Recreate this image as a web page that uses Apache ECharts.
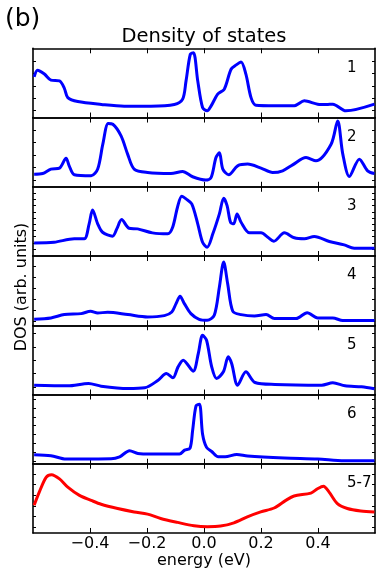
<!DOCTYPE html>
<html><head><meta charset="utf-8">
<script src="https://cdn.jsdelivr.net/npm/echarts@6/dist/echarts.min.js"></script>
<style>html,body{margin:0;padding:0;background:#fff}#c{width:390px;height:576px}</style>
</head><body><div id="c"></div>
<script>
// ---- data (energy in eV, DOS in arbitrary units) ----
const xTickValues = [-0.4, -0.2, 0.0, 0.2, 0.4];
const panelLabels = ['1', '2', '3', '4', '5', '6', '5-7'];

const e1 = [-0.596,-0.584,-0.56,-0.537,-0.507,-0.49,-0.478,-0.443,-0.36,-0.28,-0.186,-0.104,-0.075,-0.063,-0.048,-0.037,-0.022,-0.005,0.011,0.025,0.048,0.071,0.095,0.112,0.13,0.147,0.165,0.182,0.25,0.317,0.352,0.399,0.43,0.452,0.498,0.598];
const dos1 = [2.72,3.26,2.95,2.46,2.40,1.8,1.05,0.73,0.5,0.36,0.36,0.49,0.92,2.40,4.55,4.68,2.40,0.25,-0.02,0.38,1.33,1.73,3.34,3.67,3.93,2.94,1.05,0.44,0.40,0.40,0.79,0.52,0.49,0.52,-0.02,0.52];

const e2 = [-0.596,-0.566,-0.537,-0.507,-0.484,-0.473,-0.455,-0.396,-0.373,-0.355,-0.336,-0.32,-0.291,-0.268,-0.245,-0.198,-0.116,-0.075,-0.04,0.007,0.025,0.042,0.054,0.066,0.087,0.118,0.153,0.2,0.241,0.276,0.311,0.358,0.393,0.446,0.469,0.487,0.51,0.545,0.574,0.598];
const dos2 = [0.46,0.51,0.87,0.95,1.75,1.13,0.41,0.33,0.87,2.88,4.55,4.49,3.55,2.08,0.87,0.59,0.51,0.68,0.25,-0.02,0.19,1.80,2.18,0.87,0.41,1.13,1.27,0.95,0.59,0.73,1.21,1.80,1.54,2.88,4.76,2.08,0.27,1.67,0.73,0.51];

const e3 = [-0.596,-0.526,-0.455,-0.42,-0.403,-0.391,-0.373,-0.356,-0.321,-0.306,-0.289,-0.263,-0.233,-0.181,-0.127,-0.11,-0.093,-0.078,-0.063,-0.043,-0.022,-0.005,0.011,0.031,0.054,0.069,0.081,0.093,0.104,0.116,0.13,0.16,0.2,0.224,0.245,0.282,0.317,0.352,0.387,0.44,0.492,0.527,0.598];
const dos3 = [0.50,0.55,0.83,0.83,2.04,3.16,2.04,1.36,1.04,1.63,2.38,1.68,1.63,1.31,1.23,1.76,3.38,4.26,4.05,3.65,2.04,0.55,0.15,1.23,2.84,4.10,3.51,2.17,2.04,2.84,2.17,1.31,1.31,0.96,0.63,1.31,0.91,0.83,1.01,0.61,0.34,0.07,0.07];

const e4 = [-0.596,-0.537,-0.49,-0.431,-0.398,-0.373,-0.338,-0.267,-0.198,-0.139,-0.113,-0.098,-0.084,-0.069,-0.046,-0.017,0.011,0.036,0.054,0.069,0.083,0.101,0.13,0.177,0.218,0.247,0.323,0.362,0.399,0.452,0.487,0.598];
const dos4 = [-0.08,0.03,0.30,0.38,0.57,0.43,0.49,0.30,0.11,0.22,0.51,1.19,1.78,1.19,0.38,-0.08,-0.16,0.25,2.53,4.55,2.80,0.57,0.30,0.19,0.30,-0.02,-0.02,0.46,0.03,0.03,-0.18,-0.18];

const e5 = [-0.596,-0.478,-0.405,-0.361,-0.267,-0.208,-0.161,-0.132,-0.109,-0.091,-0.073,-0.038,-0.02,-0.005,0.009,0.027,0.044,0.068,0.085,0.097,0.118,0.147,0.179,0.249,0.413,0.452,0.495,0.553,0.598];
const dos5 = [0.19,0.14,0.33,0.11,-0.08,-0.02,0.59,1.13,0.79,1.67,2.21,1.32,2.75,4.22,3.82,1.67,0.73,1.27,2.48,1.94,0.19,1.27,0.41,0.25,0.19,0.38,0.14,0.06,-0.10];

const e6 = [-0.596,-0.537,-0.484,-0.326,-0.296,-0.261,-0.232,-0.185,-0.086,-0.068,-0.049,-0.04,-0.028,-0.016,-0.005,0.009,0.027,0.05,0.074,0.115,0.153,0.282,0.399,0.492,0.598];
const dos6 = [0.17,0.09,-0.18,-0.16,0.0,0.49,0.27,0.22,0.22,0.54,0.70,2.10,4.12,4.25,1.83,0.76,0.43,0.0,0.0,0.19,0.06,-0.10,-0.18,-0.32,-0.32];

const e7 = [-0.596,-0.578,-0.554,-0.535,-0.507,-0.478,-0.437,-0.396,-0.361,-0.303,-0.245,-0.198,-0.152,-0.093,-0.035,0.012,0.058,0.105,0.152,0.199,0.246,0.287,0.316,0.375,0.398,0.419,0.439,0.468,0.503,0.55,0.598];
const dos7 = [2.06,3.30,4.70,4.95,4.55,3.77,2.99,2.52,2.15,1.75,1.43,1.22,0.81,0.44,0.12,0.03,0.09,0.40,0.96,1.43,1.80,2.52,2.93,3.21,3.62,3.86,3.30,2.22,1.75,1.52,1.43];

const yTicks1 = [0, 1, 2, 3, 4];
const yTicks2 = [0, 1, 2, 3, 4];
const yTicks3 = [0, 0.5, 1, 1.5, 2, 2.5, 3, 3.5, 4, 4.5];
const yTicks4 = [-0.21, 0.65, 1.54, 2.40, 3.34, 4.22];
const yTicks5 = [0.05, 1.13, 2.2, 3.28, 4.36];
const yTicks6 = [-0.32, 0.39, 1.10, 1.81, 2.52, 3.23, 3.94, 4.65];
const yTicks7 = [0, 1, 2, 3, 4, 5];

const yMax = [5.03, 5.03, 5.03, 5.03, 5.03, 5.03, 5.98];
const yMin = -0.56;

// ---- build ----
const energies = [e1, e2, e3, e4, e5, e6, e7];
const doses = [dos1, dos2, dos3, dos4, dos5, dos6, dos7];
const yTicks = [yTicks1, yTicks2, yTicks3, yTicks4, yTicks5, yTicks6, yTicks7];
const colors = ['#0000ff','#0000ff','#0000ff','#0000ff','#0000ff','#0000ff','#ff0000'];

const LEFT = 33, WIDTH = 342, TOP = 48.3, H = 69.24;
const FONT = 'DejaVu Sans';
const axisLineStyle = { color: '#000', width: 1.6 };

const grids = [], xAxes = [], yAxes = [], series = [], graphics = [];
const fmt = v => {
  if (Math.abs(v) < 1e-9) return '0.0';
  const s = v.toFixed(1);
  return s.replace('-', '\u2212');
};

for (let i = 0; i < 7; i++) {
  const top = TOP + i * H;
  grids.push({ left: LEFT, top: top, width: WIDTH, height: H, containLabel: false });
  const isLast = i === 6;
  xAxes.push({
    type: 'value', gridIndex: i, position: 'bottom', min: -0.6, max: 0.6, interval: 0.2,
    axisLine: { show: true, onZero: false, lineStyle: axisLineStyle },
    axisTick: { show: true, inside: true, length: 5, customValues: xTickValues, lineStyle: { color: '#000', width: 1 } },
    axisLabel: { show: isLast, customValues: xTickValues, formatter: fmt, fontFamily: FONT, fontSize: 16, color: '#000', margin: 3 },
    splitLine: { show: false }
  });
  xAxes.push({
    type: 'value', gridIndex: i, position: 'top', min: -0.6, max: 0.6, interval: 0.2,
    axisLine: { show: true, onZero: false, lineStyle: axisLineStyle },
    axisTick: { show: true, inside: true, length: 5, customValues: xTickValues, lineStyle: { color: '#000', width: 1 } },
    axisLabel: { show: false },
    splitLine: { show: false }
  });
  const yCommon = {
    type: 'value', gridIndex: i, min: yMin, max: yMax[i],
    axisLine: { show: true, onZero: false, lineStyle: axisLineStyle },
    axisTick: { show: true, inside: true, length: 3, customValues: yTicks[i], lineStyle: { color: '#000', width: 1 } },
    axisLabel: { show: false },
    splitLine: { show: false }
  };
  yAxes.push(Object.assign({ position: 'left' }, yCommon));
  yAxes.push(Object.assign({ position: 'right' }, yCommon));

  series.push({
    type: 'line', xAxisIndex: 2 * i, yAxisIndex: 2 * i,
    data: energies[i].map((x, j) => [x, doses[i][j]]),
    showSymbol: false, smooth: 0.3, clip: true,
    lineStyle: { color: colors[i], width: 3 },
    itemStyle: { color: colors[i] },
    silent: true, animation: false
  });

  graphics.push({
    type: 'text', left: 347, top: top + 12,
    style: { text: panelLabels[i], font: '15px "DejaVu Sans"', fill: '#000' }
  });
}

graphics.push({ type: 'text', left: 5, top: 7,
  style: { text: '(b)', font: '25px "DejaVu Sans"', fill: '#000' } });
graphics.push({ type: 'text', x: 204, y: 37,
  style: { text: 'Density of states', font: '19.5px "DejaVu Sans"', fill: '#000', textAlign: 'center', textVerticalAlign: 'middle' } });
graphics.push({ type: 'text', x: 204, y: 561,
  style: { text: 'energy (eV)', font: '16px "DejaVu Sans"', fill: '#000', textAlign: 'center', textVerticalAlign: 'middle' } });
graphics.push({ type: 'text', x: 22, y: 287, rotation: Math.PI / 2,
  style: { text: 'DOS (arb. units)', font: '16px "DejaVu Sans"', fill: '#000', textAlign: 'center', textVerticalAlign: 'middle' } });

const chart = echarts.init(document.getElementById('c'), null, { renderer: 'canvas' });
chart.setOption({
  animation: false,
  backgroundColor: '#fff',
  grid: grids, xAxis: xAxes, yAxis: yAxes, series: series, graphic: graphics
});
</script></body></html>
